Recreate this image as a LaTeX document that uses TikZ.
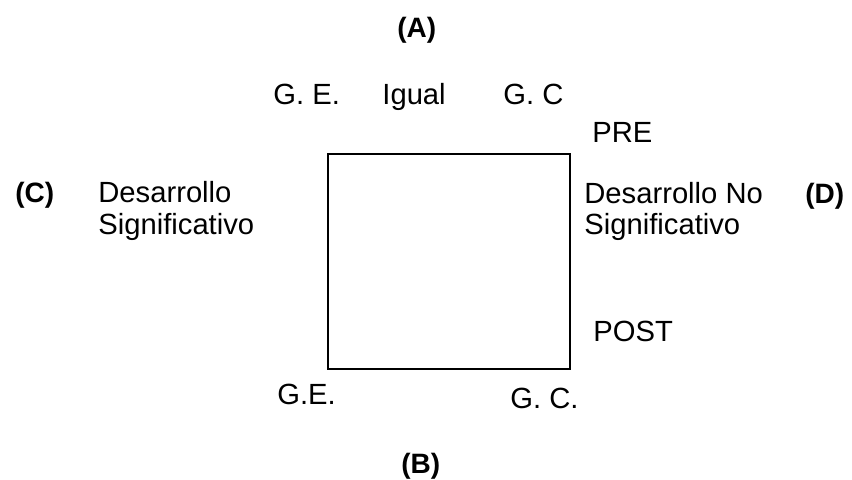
\documentclass[tikz,border=0pt]{standalone}
\usepackage{fontspec}
\setmainfont{Liberation Sans}
\begin{document}
\begin{tikzpicture}[x=0.5pt,y=-0.5pt,
  lbl/.style={anchor=base west,inner sep=0pt,font=\fontsize{14.6pt}{17pt}\selectfont},
  tag/.style={anchor=base west,inner sep=0pt,font=\fontsize{14pt}{16.5pt}\selectfont\bfseries}]
\useasboundingbox (0,0) rectangle (852,479);
\node[draw,line width=0.8pt,minimum width=242*0.5pt,minimum height=215*0.5pt,inner sep=0pt,anchor=north west] (box) at (327,153) {};
\node[tag] (A) at (397,37) {(A)};
\node[tag] (B) at (401,473) {(B)};
\node[tag] (C) at (15,202) {(C)};
\node[tag] (D) at (805,203) {(D)};
\node[lbl] (ge1) at (273,104) {G. E.};
\node[lbl] (ig) at (382,104) {Igual};
\node[lbl] (gc1) at (503,104) {G. C};
\node[lbl] (pre) at (592,142) {PRE};
\node[lbl] (post) at (593,341) {POST};
\node[lbl] (ge2) at (277,404) {G.E.};
\node[lbl] (gc2) at (510,408) {G. C.};
\node[lbl] (ds) at (98,202) {Desarrollo};
\node[lbl] (ds2) at (98,234) {Significativo};
\node[lbl] (dn) at (584,203) {Desarrollo No};
\node[lbl] (dn2) at (584,234) {Significativo};
\end{tikzpicture}
\end{document}
